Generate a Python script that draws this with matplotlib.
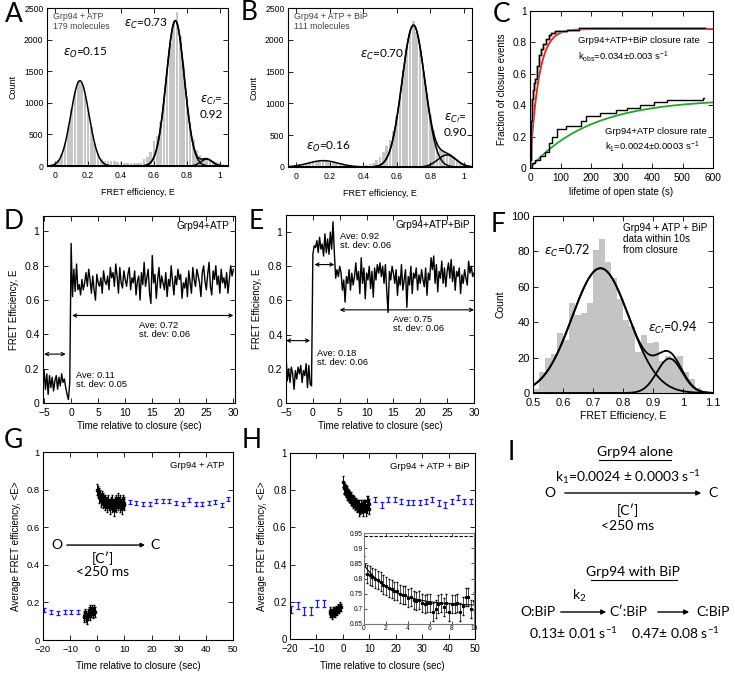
import numpy as np
import matplotlib
matplotlib.use('Agg')
import matplotlib.pyplot as plt

W, H = 735, 673
plt.rcParams['font.family'] = ['Liberation Sans', 'DejaVu Sans']
plt.rcParams['mathtext.default'] = 'regular'
plt.rcParams['font.size'] = 7

# ---------------- data ----------------
# Panel A histogram (bin centers step 0.02)
hist_a_start = -0.02
hist_a_counts = [10, 40, 90, 190, 370, 620, 900, 1180, 1340, 1310, 1140, 880, 610, 370, 200, 110,
                 80, 85, 80, 75, 70, 60, 50, 45, 40, 40, 45, 55, 110, 140, 220, 400, 480, 700, 1080,
                 1500, 1950, 2250, 2430, 2050, 1600, 1100, 700, 420, 250, 170, 130, 120, 100, 80, 60, 45, 30]
fit_a_amp = [1350, 2300, 110]
fit_a_mu = [0.15, 0.73, 0.92]
fit_a_sig = [0.055, 0.055, 0.035]

# Panel B histogram
hist_b_start = -0.02
hist_b_counts = [5, 25, 40, 55, 70, 85, 95, 100, 95, 100, 90, 85, 75, 60, 50, 40, 30, 22, 15, 12, 10,
                 15, 25, 40, 70, 110, 160, 230, 330, 420, 560, 800, 1120, 1520, 1880, 2150, 2300, 2130,
                 1860, 1500, 1150, 820, 580, 390, 290, 240, 210, 190, 150, 120, 80, 50, 25]
fit_b_amp = [100, 2230, 190]
fit_b_mu = [0.16, 0.70, 0.90]
fit_b_sig = [0.089, 0.068, 0.055]

# Panel C cumulative closure
c_bip_t = [0, 1, 2, 4, 6, 8, 11, 14, 17, 22, 28, 35, 44, 52, 61, 70, 83, 100, 122, 160, 575]
c_bip_f = [0, 0.05, 0.15, 0.30, 0.38, 0.44, 0.50, 0.54, 0.57, 0.65, 0.72, 0.76, 0.79, 0.82, 0.85,
           0.86, 0.87, 0.875, 0.88, 0.89, 0.89]
c_atp_t = [0, 6, 17, 33, 50, 61, 72, 89, 117, 150, 167, 183, 228, 283, 317, 361, 406, 450, 494, 539, 567, 570]
c_atp_f = [0, 0.03, 0.05, 0.075, 0.105, 0.16, 0.20, 0.25, 0.27, 0.27, 0.30, 0.33, 0.35, 0.37, 0.38,
           0.40, 0.42, 0.43, 0.434, 0.434, 0.445, 0.445]
c_fit_bip = (0.885, 0.036)   # plateau, rate
c_fit_atp = (0.44, 0.005)

# Panel D trace (dt = 0.25 s from -5 s)
d_dt = 0.25
d_vals = [0.19, 0.08, 0.17, 0.05, 0.16, 0.09, 0.15, 0.07, 0.13, 0.16, 0.08, 0.15, 0.10, 0.17, 0.12, 0.14,
          0.09, 0.05, 0.02, 0.12,
          0.93,
          0.62, 0.78, 0.65, 0.81, 0.66, 0.69, 0.63, 0.72, 0.66, 0.70, 0.76, 0.68, 0.78, 0.72, 0.64, 0.74,
          0.66, 0.60, 0.75, 0.70, 0.68, 0.73, 0.64, 0.77, 0.71, 0.69, 0.74, 0.66, 0.79, 0.73, 0.76, 0.68,
          0.81, 0.74, 0.64, 0.79, 0.70, 0.67, 0.77, 0.72, 0.68, 0.75, 0.79, 0.66, 0.73, 0.70, 0.77, 0.63,
          0.71, 0.74, 0.60, 0.76, 0.69, 0.82, 0.68, 0.73, 0.78, 0.64, 0.58, 0.86, 0.70, 0.75, 0.61, 0.72,
          0.79, 0.67, 0.74, 0.70, 0.66, 0.76, 0.62, 0.72, 0.68, 0.80, 0.71, 0.63, 0.74, 0.69, 0.78, 0.72,
          0.75, 0.61, 0.70, 0.67, 0.73, 0.62, 0.77, 0.70, 0.64, 0.79, 0.72, 0.68, 0.78, 0.74, 0.70, 0.62,
          0.76, 0.80, 0.71, 0.66, 0.75, 0.82, 0.68, 0.63, 0.77, 0.72, 0.80, 0.69, 0.74, 0.64, 0.78, 0.70,
          0.73, 0.67, 0.76, 0.64, 0.72, 0.80, 0.74, 0.78]

# Panel E trace
e_dt = 0.25
e_vals = [0.28, 0.13, 0.20, 0.12, 0.21, 0.17, 0.08, 0.19, 0.14, 0.21, 0.17, 0.22, 0.12, 0.19, 0.16, 0.23,
          0.09, 0.22, 0.11, 0.10,
          0.87, 0.92, 0.91, 0.95, 0.88, 0.97, 0.90, 0.93, 0.86, 0.99, 0.88, 0.96, 0.87, 1.00, 0.90, 1.06,
          0.88,
          0.73, 0.78, 0.74, 0.80, 0.76, 0.66, 0.72, 0.59, 0.74, 0.70, 0.78, 0.66, 0.76, 0.69, 0.74, 0.82,
          0.72, 0.77, 0.64, 0.85, 0.70, 0.79, 0.61, 0.76, 0.72, 0.80, 0.67, 0.77, 0.62, 0.79, 0.72, 0.81,
          0.76, 0.82, 0.74, 0.80, 0.70, 0.81, 0.66, 0.53, 0.77, 0.72, 0.80, 0.76, 0.70, 0.78, 0.63, 0.74,
          0.69, 0.81, 0.66, 0.72, 0.78, 0.56, 0.74, 0.69, 0.80, 0.64, 0.76, 0.73, 0.79, 0.66, 0.75, 0.70,
          0.78, 0.72, 0.68, 0.79, 0.63, 0.76, 0.72, 0.85, 0.78, 0.86, 0.70, 0.81, 0.65, 0.77, 0.73, 0.83,
          0.70, 0.79, 0.68, 0.77, 0.82, 0.73, 0.84, 0.71, 0.80, 0.66, 0.77, 0.74, 0.79, 0.64, 0.75, 0.70,
          0.78, 0.73, 0.69, 0.83, 0.76, 0.80, 0.74, 0.76]

# Panel F histogram (bin centers from 0.51, step 0.02)
hist_f_start = 0.51
hist_f_counts = [2, 12, 20, 22, 34, 30, 51, 44, 45, 51, 81, 87, 74, 65, 53, 41, 38, 23, 33, 28, 29, 18,
                 21, 20, 21, 12, 8, 3]
fit_f_amp = [70.5, 19.5]
fit_f_mu = [0.725, 0.955]
fit_f_sig = [0.095, 0.042]

# Panel G
g_blue_pre_t = [-19.5, -17, -14.5, -12, -9.5, -7]
g_blue_pre_v = [0.16, 0.15, 0.145, 0.15, 0.15, 0.15]
g_blue_post_t = [12, 14.4, 16.8, 19.3, 21.7, 24.1, 26.5, 29.0, 31.4, 33.8, 36.2, 38.7, 41.1, 43.5, 45.9, 48.3]
g_blue_post_v = [0.735, 0.73, 0.725, 0.725, 0.74, 0.74, 0.74, 0.73, 0.725, 0.745, 0.725, 0.725, 0.73,
                 0.735, 0.72, 0.75]
g_black_pre_v = [0.13, 0.12, 0.14, 0.13, 0.12, 0.11, 0.13, 0.14, 0.15, 0.13, 0.16, 0.15, 0.16, 0.14,
                 0.15, 0.16, 0.15]   # t = -5 .. -1 step 0.25
g_black_post_v = [0.80, 0.79, 0.78, 0.76, 0.77, 0.75, 0.74, 0.76, 0.73, 0.75, 0.74, 0.72, 0.74, 0.73,
                  0.71, 0.73, 0.74, 0.72, 0.70, 0.72, 0.73, 0.71, 0.74, 0.72, 0.69, 0.72, 0.73, 0.71,
                  0.74, 0.73, 0.72, 0.75, 0.73, 0.71, 0.74, 0.72, 0.73, 0.70, 0.74, 0.72, 0.73]  # t = 0..10

# Panel H
h_blue_pre_t = [-19.7, -16.8, -14.7, -12, -9.7, -7.1]
h_blue_pre_v = [0.16, 0.18, 0.15, 0.15, 0.19, 0.19]
h_blue_post_t = [12.2, 14.7, 17.2, 19.7, 22.0, 24.5, 26.7, 29.2, 31.3, 33.8, 36.4, 38.6, 41.2, 43.4, 45.8, 48.3]
h_blue_post_v = [0.75, 0.72, 0.75, 0.75, 0.74, 0.735, 0.735, 0.735, 0.74, 0.75, 0.73, 0.72, 0.74,
                 0.76, 0.74, 0.74]
h_black_pre_v = [0.15, 0.14, 0.14, 0.13, 0.14, 0.15, 0.14, 0.15, 0.14, 0.15, 0.16, 0.15, 0.16, 0.17,
                 0.16, 0.17, 0.18, 0.17]  # t = -5 .. -0.75
h_black_post_v = [0.845, 0.815, 0.81, 0.805, 0.80, 0.795, 0.79, 0.78, 0.775, 0.77, 0.765, 0.76, 0.76,
                  0.75, 0.745, 0.745, 0.735, 0.74, 0.73, 0.725, 0.73, 0.72, 0.715, 0.72, 0.72, 0.69,
                  0.70, 0.715, 0.72, 0.705, 0.72, 0.69, 0.715, 0.715, 0.72, 0.69, 0.71, 0.74, 0.74,
                  0.70, 0.725]  # t = 0..10 step 0.25
h_fit = (0.71, 0.135, 2.6)
h_fit_dashed = 0.94

# ---------------- helpers ----------------
fig = plt.figure(figsize=(7.35, 6.73), dpi=100)


def box(l, t, r, b):
    return [l / W, 1 - b / H, (r - l) / W, (b - t) / H]


def style(ax, fs=7):
    ax.tick_params(direction='in', top=True, right=True, length=3.5, width=0.6, labelsize=fs)
    ax.tick_params(axis='x', pad=3.5)
    ax.tick_params(axis='y', pad=2.5)
    for s in ax.spines.values():
        s.set_linewidth(0.8)


def fmt(v):
    return ('%g' % v)


def gauss(x, a, m, s):
    return a * np.exp(-(x - m) ** 2 / (2 * s ** 2))


def letter(x, y, s):
    fig.text(x / W, 1 - y / H, s, fontsize=19, family=['Lato', 'DejaVu Sans'], ha='center', va='center')


CAL = ['Lato', 'DejaVu Sans']
HC = '#444444'

# ---------------- Panel A ----------------
axA = fig.add_axes(box(47, 8, 228, 166))
xa = hist_a_start + 0.02 * np.arange(len(hist_a_counts))
axA.bar(xa, hist_a_counts, width=0.016, color='#c6c6c6', edgecolor='none')
xx = np.linspace(-0.05, 1.05, 600)
comps = [gauss(xx, a, m, s) for a, m, s in zip(fit_a_amp, fit_a_mu, fit_a_sig)]
for c in comps:
    axA.plot(xx, c, color='black', lw=1.1)
axA.plot(xx, comps[1] + comps[2], color='black', lw=1.1)
axA.set_xlim(-0.05, 1.05)
axA.set_ylim(0, 2500)
axA.set_xticks([0, 0.2, 0.4, 0.6, 0.8, 1.0])
axA.set_xticklabels([fmt(v) for v in [0, 0.2, 0.4, 0.6, 0.8, 1.0]])
axA.set_yticks([0, 500, 1000, 1500, 2000, 2500])
axA.set_xlabel('FRET efficiency, E', fontsize=6.5, labelpad=6)
axA.set_ylabel('Count', fontsize=6.5, labelpad=5)
style(axA, 6.2)
axA.text(-0.015, 2430, 'Grp94 + ATP\n179 molecules', fontsize=6.3, va='top', linespacing=1.1, color=HC)
axA.text(0.05, 1790, r'$\it{\varepsilon_O}$=0.15', fontsize=8.5, family=CAL, va='center')
axA.text(0.42, 2240, r'$\it{\varepsilon_C}$=0.73', fontsize=8.5, family=CAL, va='center')
axA.text(0.88, 1044, r"$\it{\varepsilon_{C\prime}}$=", fontsize=8.5, family=CAL, va='center')
axA.text(0.88, 807, '0.92', fontsize=8.5, family=CAL, va='center')

# ---------------- Panel B ----------------
axB = fig.add_axes(box(288, 8, 472, 167))
xb = hist_b_start + 0.02 * np.arange(len(hist_b_counts))
axB.bar(xb, hist_b_counts, width=0.016, color='#c6c6c6', edgecolor='none')
compsb = [gauss(xx, a, m, s) for a, m, s in zip(fit_b_amp, fit_b_mu, fit_b_sig)]
for c in compsb:
    axB.plot(xx, c, color='black', lw=1.1)
axB.plot(xx, compsb[1] + compsb[2], color='black', lw=1.1)
axB.set_xlim(-0.05, 1.05)
axB.set_ylim(0, 2500)
axB.set_xticks([0, 0.2, 0.4, 0.6, 0.8, 1.0])
axB.set_xticklabels([fmt(v) for v in [0, 0.2, 0.4, 0.6, 0.8, 1.0]])
axB.set_yticks([0, 500, 1000, 1500, 2000, 2500])
axB.set_xlabel('FRET efficiency, E', fontsize=6.5, labelpad=6)
axB.set_ylabel('Count', fontsize=6.5, labelpad=5)
style(axB, 6.2)
axB.text(-0.015, 2430, 'Grp94 + ATP + BiP\n111 molecules', fontsize=6.3, va='top', linespacing=1.1, color=HC)
axB.text(0.06, 315, r'$\it{\varepsilon_O}$=0.16', fontsize=8.5, family=CAL, va='center')
axB.text(0.38, 1760, r'$\it{\varepsilon_C}$=0.70', fontsize=8.5, family=CAL, va='center')
axB.text(0.88, 770, r"$\it{\varepsilon_{C\prime}}$=", fontsize=8.5, family=CAL, va='center')
axB.text(0.88, 535, '0.90', fontsize=8.5, family=CAL, va='center')

# ---------------- Panel C ----------------
axC = fig.add_axes(box(530, 11, 713, 168))
tt = np.linspace(0, 600, 600)
axC.plot(tt, c_fit_bip[0] * (1 - np.exp(-c_fit_bip[1] * tt)), color='#e8221a', lw=1.3)
axC.plot(tt, c_fit_atp[0] * (1 - np.exp(-c_fit_atp[1] * tt)), color='#22a32a', lw=1.3)
axC.step(c_bip_t, c_bip_f, where='post', color='#777777', lw=1.8)
axC.step(c_bip_t, c_bip_f, where='post', color='black', lw=0.7)
axC.step(c_atp_t, c_atp_f, where='post', color='black', lw=1.0)
axC.set_xlim(0, 600)
axC.set_ylim(0, 1)
axC.set_xticks(range(0, 601, 100))
axC.set_yticks([0, 0.2, 0.4, 0.6, 0.8, 1.0])
axC.set_yticklabels([fmt(v) for v in [0, 0.2, 0.4, 0.6, 0.8, 1.0]])
axC.set_xlabel('lifetime of open state (s)', fontsize=7, labelpad=3)
axC.set_ylabel('Fraction of closure events', fontsize=7, labelpad=4)
style(axC, 7.3)
axC.text(157, 0.815, 'Grp94+ATP+BiP closure rate', fontsize=6.8, va='center')
axC.text(157, 0.71, r'k$_{obs}$=0.034$\pm$0.003 s$^{-1}$', fontsize=6.8, va='center')
axC.text(246, 0.235, 'Grp94+ATP closure rate', fontsize=6.8, va='center')
axC.text(246, 0.135, r'k$_1$=0.0024$\pm$0.0003 s$^{-1}$', fontsize=6.8, va='center')

# ---------------- Panel D ----------------
ap = dict(arrowstyle='<->', lw=0.8, color='black', shrinkA=0, shrinkB=0, mutation_scale=6)
axD = fig.add_axes(box(43, 216, 235, 403))
td = -5 + d_dt * np.arange(len(d_vals))
axD.plot(td, d_vals, color='black', lw=1.0)
axD.set_xlim(-5.2, 30.3)
axD.set_ylim(0, 1.09)
axD.set_xticks(range(-5, 31, 5))
axD.set_yticks([0, 0.2, 0.4, 0.6, 0.8, 1.0])
axD.set_yticklabels([fmt(v) for v in [0, 0.2, 0.4, 0.6, 0.8, 1.0]])
axD.set_xlabel('Time relative to closure (sec)', fontsize=7, labelpad=2)
axD.set_ylabel('FRET Efficiency, E', fontsize=7, labelpad=4)
style(axD, 7.5)
axD.annotate('', xy=(-5, 0.285), xytext=(-1, 0.285), arrowprops=ap)
axD.annotate('', xy=(0.2, 0.51), xytext=(30, 0.51), arrowprops=ap)
axD.text(12.6, 0.425, 'Ave: 0.72\nst. dev: 0.06', fontsize=6.7, va='center', linespacing=1.0)
axD.text(0.9, 0.135, 'Ave: 0.11\nst. dev: 0.05', fontsize=6.7, va='center', linespacing=1.0)
axD.text(29.3, 1.03, 'Grp94+ATP', fontsize=7.3, ha='right', va='center')

# ---------------- Panel E ----------------
axE = fig.add_axes(box(286, 215, 474, 403))
te = -5 + e_dt * np.arange(len(e_vals))
axE.plot(te, e_vals, color='black', lw=1.0)
axE.set_xlim(-5, 30)
axE.set_ylim(0, 1.1)
axE.set_xticks(range(-5, 31, 5))
axE.set_yticks([0, 0.2, 0.4, 0.6, 0.8, 1.0])
axE.set_yticklabels([fmt(v) for v in [0, 0.2, 0.4, 0.6, 0.8, 1.0]])
axE.set_xlabel('Time relative to closure (sec)', fontsize=7, labelpad=2)
axE.set_ylabel('FRET Efficiency, E', fontsize=7, labelpad=4)
style(axE, 7.5)
axE.annotate('', xy=(-5, 0.365), xytext=(-0.5, 0.365), arrowprops=ap)
axE.annotate('', xy=(0.3, 0.81), xytext=(4.0, 0.81), arrowprops=ap)
axE.annotate('', xy=(5, 0.545), xytext=(30, 0.545), arrowprops=ap)
axE.text(5.0, 0.945, 'Ave: 0.92\nst. dev: 0.06', fontsize=6.7, va='center', linespacing=1.0)
axE.text(14.9, 0.465, 'Ave: 0.75\nst. dev: 0.06', fontsize=6.7, va='center', linespacing=1.0)
axE.text(0.8, 0.265, 'Ave: 0.18\nst. dev: 0.06', fontsize=6.7, va='center', linespacing=1.0)
axE.text(29.3, 1.04, 'Grp94+ATP+BiP', fontsize=7.3, ha='right', va='center')

# ---------------- Panel F ----------------
axF = fig.add_axes(box(533, 216, 713, 393))
xf = hist_f_start + 0.02 * np.arange(len(hist_f_counts))
axF.bar(xf, hist_f_counts, width=0.017, color='#c4c4c4', edgecolor='none')
xxf = np.linspace(0.5, 1.1, 400)
compsf = [gauss(xxf, a, m, s) for a, m, s in zip(fit_f_amp, fit_f_mu, fit_f_sig)]
for c in compsf:
    axF.plot(xxf, c, color='black', lw=1.3)
axF.plot(xxf, compsf[0] + compsf[1], color='black', lw=1.3)
axF.set_xlim(0.5, 1.1)
axF.set_ylim(0, 100)
axF.set_xticks([0.5, 0.6, 0.7, 0.8, 0.9, 1.0, 1.1])
axF.set_xticklabels([fmt(v) for v in [0.5, 0.6, 0.7, 0.8, 0.9, 1.0, 1.1]])
axF.set_yticks(range(0, 101, 20))
axF.set_xlabel('FRET Efficiency, E', fontsize=7.5, labelpad=2)
axF.set_ylabel('Count', fontsize=7.5, labelpad=4)
style(axF, 8)
axF.text(0.80, 96, 'Grp94 + ATP + BiP\ndata within 10s\nfrom closure', fontsize=7.2, va='top', linespacing=1.15)
axF.text(0.537, 80, r'$\it{\varepsilon_C}$=0.72', fontsize=9, family=CAL, va='center')
axF.text(0.883, 37, r"$\it{\varepsilon_{C\prime}}$=0.94", fontsize=9, family=CAL, va='center')

# ---------------- Panel G ----------------
axG = fig.add_axes(box(43, 452, 233, 640))
blue = '#1c1cd6'
eb = dict(capsize=1.3, elinewidth=0.9, capthick=0.9)
axG.errorbar(g_blue_pre_t, g_blue_pre_v, yerr=0.01, fmt='none', ecolor=blue, **eb)
axG.errorbar(g_blue_post_t, g_blue_post_v, yerr=0.01, fmt='none', ecolor=blue, **eb)
tgp = -5 + 0.25 * np.arange(len(g_black_pre_v))
tga = 0.25 * np.arange(len(g_black_post_v))
axG.errorbar(tgp, g_black_pre_v, yerr=0.025, fmt='s', ms=1.8, color='black', ecolor='black',
             capsize=1, elinewidth=0.7)
axG.errorbar(tga, g_black_post_v, yerr=0.03, fmt='s', ms=1.8, color='black', ecolor='black',
             capsize=1, elinewidth=0.7)
axG.set_xlim(-20, 50)
axG.set_ylim(0, 1)
axG.set_xticks(range(-20, 51, 10))
axG.set_yticks([0, 0.2, 0.4, 0.6, 0.8, 1.0])
axG.set_yticklabels([fmt(v) for v in [0, 0.2, 0.4, 0.6, 0.8, 1.0]])
axG.set_xlabel('Time relative to closure (sec)', fontsize=7, labelpad=5)
axG.set_ylabel('Average FRET efficiency, <E>', fontsize=7, labelpad=4)
style(axG, 6.8)
axG.text(47, 0.93, 'Grp94 + ATP', fontsize=6.8, ha='right', va='center')
axG.text(-14.8, 0.505, 'O', fontsize=10, family=CAL, ha='center', va='center')
axG.text(21.3, 0.505, 'C', fontsize=10, family=CAL, ha='center', va='center')
axG.annotate('', xy=(17.6, 0.505), xytext=(-11.2, 0.505),
             arrowprops=dict(arrowstyle='-|>', lw=1.0, color='black', shrinkA=0, shrinkB=0, mutation_scale=6))
axG.text(2.1, 0.436, '[C\u2032]', fontsize=10, family=CAL, ha='center', va='center')
axG.text(2.1, 0.362, '<250 ms', fontsize=10, family=CAL, ha='center', va='center')

# ---------------- Panel H ----------------
axH = fig.add_axes(box(290, 453, 475, 639))
axH.errorbar(h_blue_pre_t, h_blue_pre_v, yerr=0.02, fmt='none', ecolor=blue, **eb)
axH.errorbar(h_blue_post_t, h_blue_post_v, yerr=0.015, fmt='none', ecolor=blue, **eb)
thp = -5 + 0.25 * np.arange(len(h_black_pre_v))
tha = 0.25 * np.arange(len(h_black_post_v))
axH.errorbar(thp, h_black_pre_v, yerr=0.02, fmt='s', ms=1.8, color='black', ecolor='black',
             capsize=1, elinewidth=0.7)
axH.errorbar(tha, h_black_post_v, yerr=0.03, fmt='s', ms=1.8, color='black', ecolor='black',
             capsize=1, elinewidth=0.7)
axH.set_xlim(-20, 50)
axH.set_ylim(0, 1)
axH.set_xticks(range(-20, 51, 10))
axH.set_yticks([0, 0.2, 0.4, 0.6, 0.8, 1.0])
axH.set_yticklabels([fmt(v) for v in [0, 0.2, 0.4, 0.6, 0.8, 1.0]])
axH.set_xlabel('Time relative to closure (sec)', fontsize=7, labelpad=5)
axH.set_ylabel('Average FRET efficiency, <E>', fontsize=7, labelpad=4)
style(axH, 7)
axH.text(48, 0.93, 'Grp94 + ATP + BiP', fontsize=6.8, ha='right', va='center')

axI = fig.add_axes(box(364, 533, 474, 624))
axI.errorbar(tha, h_black_post_v, yerr=0.03, fmt='s', ms=1.3, color='black', ecolor='black',
             capsize=0.8, elinewidth=0.5)
tfit = np.linspace(0, 10, 200)
axI.plot(tfit, h_fit[0] + h_fit[1] * np.exp(-tfit / h_fit[2]), color='black', lw=0.8)
axI.axhline(h_fit_dashed, color='black', lw=0.8, ls='--', dashes=(3, 1.5))
axI.set_xlim(0, 10)
axI.set_ylim(0.65, 0.95)
axI.set_xticks(range(0, 11, 2))
axI.set_yticks([0.65, 0.7, 0.75, 0.8, 0.85, 0.9, 0.95])
axI.set_yticklabels([fmt(v) for v in [0.65, 0.7, 0.75, 0.8, 0.85, 0.9, 0.95]])
axI.tick_params(direction='in', top=True, right=True, length=2, width=0.5, labelsize=4.8, pad=1)
for s in axI.spines.values():
    s.set_linewidth(0.8)
    s.set_color('#777777')

# ---------------- Panel I (scheme) ----------------
def ft(x, y, s, fs=10, ha='center', **kw):
    fig.text(x / W, 1 - y / H, s, fontsize=fs, family=CAL, ha=ha, va='center', **kw)


def farrow(x0, x1, y):
    fig.add_artist(matplotlib.patches.FancyArrowPatch((x0 / W, 1 - y / H), (x1 / W, 1 - y / H),
                   transform=fig.transFigure, arrowstyle='-|>', mutation_scale=7, lw=1.0, color='black'))


def uline(x0, x1, y):
    fig.add_artist(matplotlib.lines.Line2D([x0 / W, x1 / W], [1 - y / H, 1 - y / H],
                   transform=fig.transFigure, color='black', lw=0.8))


ft(635, 452, 'Grp94 alone')
uline(599, 671, 460)
ft(628, 477, r'k$_1$=0.0024 $\pm$ 0.0003 s$^{-1}$')
ft(550, 493, 'O')
farrow(562, 704, 493)
ft(713, 493, 'C')
ft(628, 510, '[C\u2032]')
ft(628, 526, '<250 ms')
ft(633, 572, 'Grp94 with BiP')
uline(591, 677, 580)
ft(579, 596, r'k$_2$')
ft(538, 612, 'O:BiP')
farrow(558, 609, 612)
ft(628, 612, 'C\u2032:BiP')
farrow(655, 692, 612)
ft(713, 612, 'C:BiP')
ft(573, 633, r'0.13$\pm$ 0.01 s$^{-1}$')
ft(675, 633, r'0.47$\pm$ 0.08 s$^{-1}$')

# ---------------- letters ----------------
letter(14, 14, 'A')
letter(249, 13, 'B')
letter(502, 14, 'C')
letter(14, 222, 'D')
letter(256, 222, 'E')
letter(498, 225, 'F')
letter(13, 440, 'G')
letter(252, 440, 'H')
letter(511, 453, 'I')

fig.savefig('out.png', dpi=100)
